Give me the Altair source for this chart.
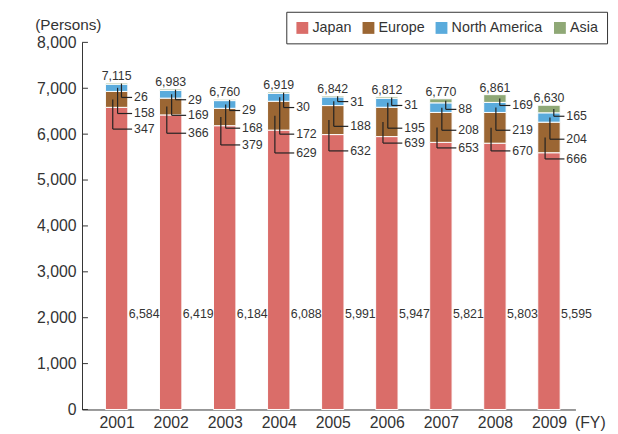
import altair as alt
import pandas as pd

# ---------------- data ----------------
years = [2001, 2002, 2003, 2004, 2005, 2006, 2007, 2008, 2009]
japan = [6584, 6419, 6184, 6088, 5991, 5947, 5821, 5803, 5595]
europe = [347, 366, 379, 629, 632, 639, 653, 670, 666]
north_america = [158, 169, 168, 172, 188, 195, 208, 219, 204]
asia = [26, 29, 29, 30, 31, 31, 88, 169, 165]
totals = [7115, 6983, 6760, 6919, 6842, 6812, 6770, 6861, 6630]

regions = ["Japan", "Europe", "North America", "Asia"]
colors = ["#da6d69", "#9b6633", "#5aabdc", "#8fa876"]

# annotation (callout label) heights, in persons
asia_label_y = [6800, 6750, 6515, 6580, 6710, 6625, 6540, 6625, 6390]
na_label_y = [6450, 6410, 6130, 6000, 6170, 6130, 6085, 6085, 5890]
eu_label_y = [6110, 6020, 5765, 5590, 5635, 5805, 5700, 5635, 5460]
japan_label_y = 2090
y_ticks = [0, 1000, 2000, 3000, 4000, 5000, 6000, 7000, 8000]

# ---------------- layout ----------------
W, H = 500, 372
XDOM = [2000.451, 2009.399]
PX = W / (XDOM[1] - XDOM[0])  # pixels per year
FONT = "Liberation Sans"
TXT = "#333333"

series = {"Japan": japan, "Europe": europe, "North America": north_america, "Asia": asia}

rows = []
for i, yr in enumerate(years):
    base = 0
    for k, r in enumerate(regions):
        v = series[r][i]
        rows.append({"year": yr, "region": r, "value": v, "y0": base, "y1": base + v,
                     "mid": base + v / 2})
        base += v
bars = pd.DataFrame(rows)

off = {"Europe": -4, "North America": 1, "Asia": 5}
lab = {"Europe": eu_label_y, "North America": na_label_y, "Asia": asia_label_y}
crow = []
for _, r in bars[bars.region != "Japan"].iterrows():
    i = years.index(r.year)
    crow.append({
        "year": r.year, "region": r.region, "value": r.value, "mid": r.mid,
        "ly": lab[r.region][i],
        "xv": r.year + off[r.region] / PX,
        "xe": r.year + 16 / PX,
        "xl": r.year + 18 / PX,
        "txt": f"{int(r.value):,}",
    })
callouts = pd.DataFrame(crow)

tot = pd.DataFrame({"year": years, "total": totals,
                    "txt": [f"{t:,}" for t in totals]})
jp = pd.DataFrame({"year": years, "xl": [y + 12.5 / PX for y in years],
                   "ly": [japan_label_y] * len(years),
                   "txt": [f"{v:,}" for v in japan]})

xscale = alt.Scale(domain=XDOM, nice=False, zero=False)
yscale = alt.Scale(domain=[0, 8000], nice=False)

bar_layer = alt.Chart(bars).mark_bar(size=22.7, stroke="white", strokeWidth=1).encode(
    x=alt.X("year:Q", scale=xscale,
            axis=alt.Axis(values=years, format="d", title="(FY)", grid=False,
                          ticks=False, tickSize=0, labelPadding=5, labelFontSize=16,
                          labelFont=FONT, labelColor=TXT, domainColor="#333333",
                          titleFont=FONT, titleFontSize=16, titleFontWeight="normal",
                          titleColor=TXT, titleX=499, titleY=13, titleAlign="left",
                          titleBaseline="middle", labelFlush=False)),
    y=alt.Y("y0:Q", scale=yscale,
            axis=alt.Axis(values=y_ticks, format=",d", title="(Persons)", grid=False,
                          ticks=False, tickSize=0, labelPadding=6, labelFontSize=16,
                          labelFont=FONT, labelColor=TXT, domainColor="#333333",
                          titleFont=FONT, titleFontSize=15.5, titleFontWeight="normal",
                          titleColor=TXT, titleAngle=0, titleX=-48, titleY=-18,
                          titleAlign="left", titleBaseline="middle")),
    y2="y1:Q",
    color=alt.Color("region:N", scale=alt.Scale(domain=regions, range=colors),
                    legend=alt.Legend(orient="none", legendX=207, legendY=-31,
                                      direction="horizontal", title=None,
                                      symbolType="square", symbolSize=144,
                                      symbolStrokeWidth=0, labelFontSize=14.5,
                                      labelFont=FONT, labelColor=TXT,
                                      columnPadding=9, labelOffset=3, padding=9,
                                      strokeColor="#333333")),
)

tick_layer = alt.Chart(pd.DataFrame({"v": y_ticks})).mark_rule(
    color="#333333", strokeWidth=1).encode(
    x=alt.value(0), x2=alt.value(6), y=alt.Y("v:Q", scale=yscale))

total_layer = alt.Chart(tot).mark_text(
    font=FONT, fontSize=12.5, color=TXT, align="center", baseline="alphabetic", dy=-3
).encode(x=alt.X("year:Q", scale=xscale), y=alt.Y("total:Q", scale=yscale), text="txt:N")

jp_layer = alt.Chart(jp).mark_text(
    font=FONT, fontSize=12.5, color=TXT, align="left", baseline="middle"
).encode(x=alt.X("xl:Q", scale=xscale), y=alt.Y("ly:Q", scale=yscale), text="txt:N")

vert = alt.Chart(callouts).mark_rule(color="#222222", strokeWidth=1.2).encode(
    x=alt.X("xv:Q", scale=xscale), y=alt.Y("mid:Q", scale=yscale), y2="ly:Q")
horiz = alt.Chart(callouts).mark_rule(color="#222222", strokeWidth=1.2).encode(
    x=alt.X("xv:Q", scale=xscale), x2="xe:Q", y=alt.Y("ly:Q", scale=yscale))
clab = alt.Chart(callouts).mark_text(
    font=FONT, fontSize=12.5, color=TXT, align="left", baseline="middle"
).encode(x=alt.X("xl:Q", scale=xscale), y=alt.Y("ly:Q", scale=yscale), text="txt:N")

chart = alt.layer(bar_layer, tick_layer, total_layer, jp_layer, vert, horiz, clab).properties(
    width=W, height=H,
    padding={"left": 75, "top": 32, "right": 35, "bottom": 22},
    autosize=alt.AutoSizeParams(type="none"),
).configure_view(stroke=None)

chart.save("out.html", embed_options={"renderer": "svg", "actions": False})
